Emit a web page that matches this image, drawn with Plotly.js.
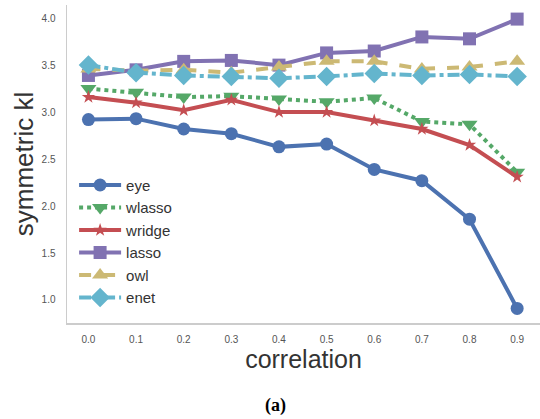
<!DOCTYPE html>
<html><head><meta charset="utf-8">
<script src="https://cdn.plot.ly/plotly-3.0.1.min.js"></script>
<style>html,body{margin:0;padding:0;background:#fff}#chart{width:540px;height:419px}</style>
</head><body><div id="chart"></div>
<script>
const correlation = [0.0, 0.1, 0.2, 0.3, 0.4, 0.5, 0.6, 0.7, 0.8, 0.9];
const tickLabels = ["0.0","0.1","0.2","0.3","0.4","0.5","0.6","0.7","0.8","0.9"];
const eye    = [2.92, 2.93, 2.82, 2.77, 2.63, 2.66, 2.39, 2.27, 1.86, 0.91];
const wlasso = [3.25, 3.21, 3.16, 3.17, 3.14, 3.11, 3.15, 2.90, 2.87, 2.36];
const wridge = [3.16, 3.10, 3.02, 3.13, 3.00, 3.00, 2.91, 2.82, 2.65, 2.31];
const lasso  = [3.39, 3.45, 3.54, 3.55, 3.50, 3.63, 3.65, 3.80, 3.78, 3.99];
const owl    = [3.46, 3.44, 3.45, 3.42, 3.48, 3.54, 3.54, 3.46, 3.48, 3.54];
const enet   = [3.50, 3.42, 3.39, 3.38, 3.36, 3.38, 3.41, 3.39, 3.40, 3.38];
const yTickVals = [1.0, 1.5, 2.0, 2.5, 3.0, 3.5, 4.0];
const yTickText = ["1.0","1.5","2.0","2.5","3.0","3.5","4.0"];

function tr(name, y, color, dash, symbol, size) {
  return {x: correlation, y: y, name: name, type: 'scatter', mode: 'lines+markers',
    line: {color: color, width: 4, dash: dash},
    marker: {color: color, symbol: symbol, size: size}};
}
const data = [
  tr('eye', eye, '#4C72B0', 'solid', 'circle', 13),
  tr('wlasso', wlasso, '#55A868', 'dot', 'triangle-down', 14),
  tr('wridge', wridge, '#C44E52', 'solid', 'star', 10),
  tr('lasso', lasso, '#8172B2', 'solid', 'square', 13),
  tr('owl', owl, '#CCB974', 'dash', 'triangle-up', 14),
  tr('enet', enet, '#64B5CD', 'dashdot', 'diamond', 15)
];
const layout = {
  width: 540, height: 419,
  margin: {l: 67, r: 0, t: 5, b: 96},
  paper_bgcolor: '#fff', plot_bgcolor: '#fff',
  font: {family: 'Liberation Sans, Arial, sans-serif', color: '#333'},
  showlegend: true,
  legend: {x: 0.015, y: 0.485, xanchor: 'left', yanchor: 'top', bgcolor: 'rgba(0,0,0,0)',
    font: {size: 15, color: '#333'}, tracegroupgap: 0, itemwidth: 42},
  xaxis: {range: [-0.045, 0.948], tickvals: correlation, ticktext: tickLabels,
    showgrid: false, zeroline: false, showline: true, linecolor: '#ccc', linewidth: 1.5,
    ticks: 'outside', ticklen: 6, tickcolor: 'rgba(0,0,0,0)',
    tickfont: {size: 10, color: '#555'},
    title: {text: 'correlation', font: {size: 25, color: '#333'}, standoff: 1}},
  yaxis: {range: [0.755, 4.14], tickvals: yTickVals, ticktext: yTickText,
    showgrid: false, zeroline: false, showline: true, linecolor: '#ccc', linewidth: 1.5,
    ticks: 'outside', ticklen: 8, tickcolor: 'rgba(0,0,0,0)',
    tickfont: {size: 10, color: '#555'},
    title: {text: 'symmetric kl', font: {size: 26, color: '#333'}, standoff: 0}},
  annotations: [{text: '<b>(a)</b>', xref: 'paper', yref: 'paper', x: 0.44, y: -0.258,
    xanchor: 'center', yanchor: 'middle', showarrow: false,
    font: {family: 'Liberation Serif, DejaVu Serif, serif', size: 18, color: '#000'}}]
};
Plotly.newPlot('chart', data, layout, {displayModeBar: false, staticPlot: true});
</script></body></html>
